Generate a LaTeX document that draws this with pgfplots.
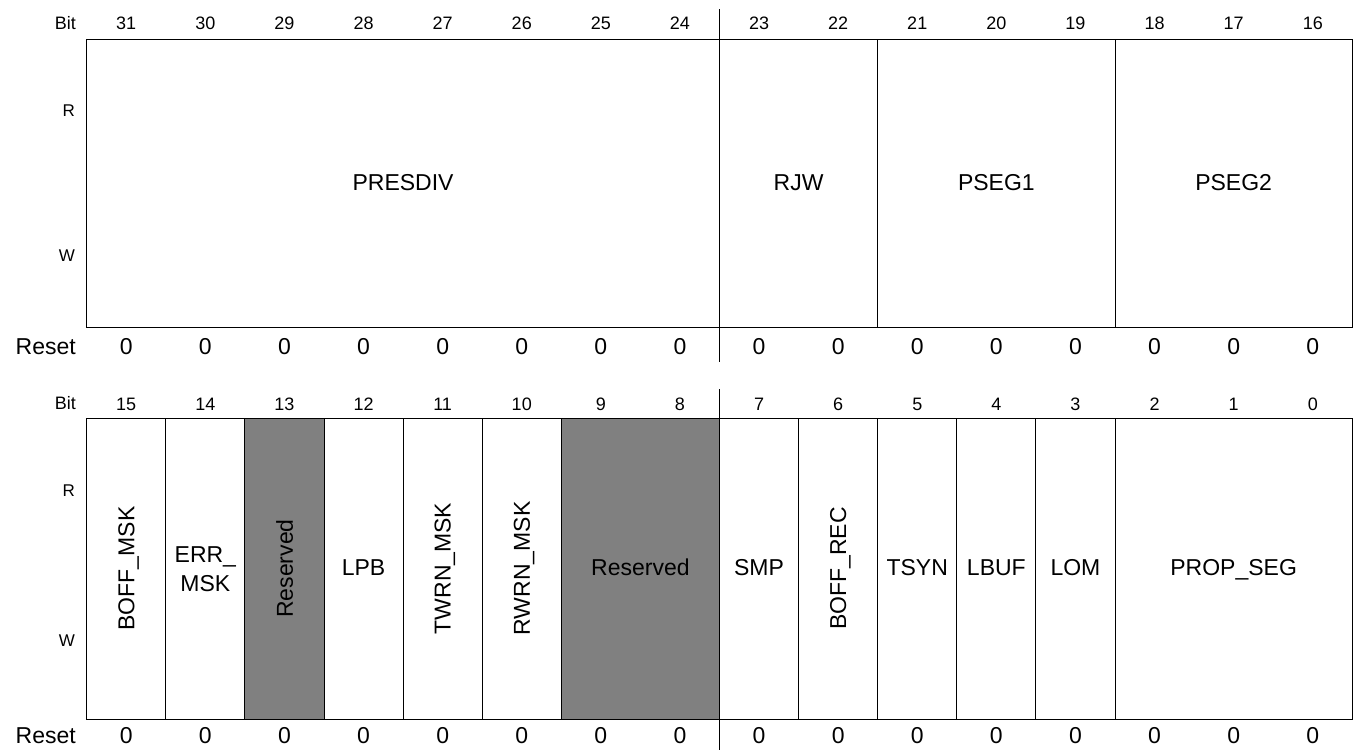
\documentclass[border=0pt]{standalone}
\usepackage{pgfplots}
\usepackage{pgfplotstable}
\pgfplotsset{compat=1.18}
\usepackage{fontspec}
\setmainfont{Liberation Sans}
\definecolor{resgray}{RGB}{128,128,128}
\newcommand{\nod}[1]{\raisebox{0pt}[\height][0pt]{#1}}
\newcommand{\fsz}[1]{\fontsize{#1}{#1}\selectfont}

% bit columns: x = column index (left edge), labels for both registers
\pgfplotstableread{
x    top  bot  rst
0.5  31   15   0
1.5  30   14   0
2.5  29   13   0
3.5  28   12   0
4.5  27   11   0
5.5  26   10   0
6.5  25   9    0
7.5  24   8    0
8.5  23   7    0
9.5  22   6    0
10.5 21   5    0
11.5 20   4    0
12.5 19   3    0
13.5 18   2    0
14.5 17   1    0
15.5 16   0    0
}\bits

\begin{document}
\begin{tikzpicture}
\begin{axis}[width=1353pt,height=750pt,scale only axis,
  xmin=-1.0961, xmax=16.0089, ymin=0, ymax=750, y dir=reverse,
  axis lines=none, ticks=none, clip=false]
\path (rel axis cs:0,0) rectangle (rel axis cs:1,1);

% ---------- upper register (bits 31..16) ----------
\addplot[draw=black, line width=1pt, fill=white] coordinates {(0,39) (8,39) (8,327) (0,327)} -- cycle;
\addplot[draw=black, line width=1pt, fill=white] coordinates {(8,39) (10,39) (10,327) (8,327)} -- cycle;
\addplot[draw=black, line width=1pt, fill=white] coordinates {(10,39) (13,39) (13,327) (10,327)} -- cycle;
\addplot[draw=black, line width=1pt, fill=white] coordinates {(13,39) (16,39) (16,327) (13,327)} -- cycle;
% byte divider
\addplot[black, line width=1pt] coordinates {(8,9.3) (8,39)};
\addplot[black, line width=1pt] coordinates {(8,327) (8,362)};

% ---------- lower register (bits 15..0) ----------
\addplot[draw=black, line width=1pt, fill=white]   coordinates {(0,418) (1,418) (1,719) (0,719)} -- cycle;
\addplot[draw=black, line width=1pt, fill=white]   coordinates {(1,418) (2,418) (2,719) (1,719)} -- cycle;
\addplot[draw=black, line width=1pt, fill=resgray] coordinates {(2,418) (3,418) (3,719) (2,719)} -- cycle;
\addplot[draw=black, line width=1pt, fill=white]   coordinates {(3,418) (4,418) (4,719) (3,719)} -- cycle;
\addplot[draw=black, line width=1pt, fill=white]   coordinates {(4,418) (5,418) (5,719) (4,719)} -- cycle;
\addplot[draw=black, line width=1pt, fill=white]   coordinates {(5,418) (6,418) (6,719) (5,719)} -- cycle;
\addplot[draw=black, line width=1pt, fill=resgray] coordinates {(6,418) (8,418) (8,719) (6,719)} -- cycle;
\addplot[draw=black, line width=1pt, fill=white]   coordinates {(8,418) (9,418) (9,719) (8,719)} -- cycle;
\addplot[draw=black, line width=1pt, fill=white]   coordinates {(9,418) (10,418) (10,719) (9,719)} -- cycle;
\addplot[draw=black, line width=1pt, fill=white]   coordinates {(10,418) (11,418) (11,719) (10,719)} -- cycle;
\addplot[draw=black, line width=1pt, fill=white]   coordinates {(11,418) (12,418) (12,719) (11,719)} -- cycle;
\addplot[draw=black, line width=1pt, fill=white]   coordinates {(12,418) (13,418) (13,719) (12,719)} -- cycle;
\addplot[draw=black, line width=1pt, fill=white]   coordinates {(13,418) (16,418) (16,719) (13,719)} -- cycle;
\addplot[black, line width=1pt] coordinates {(8,389) (8,418)};
\addplot[black, line width=1pt] coordinates {(8,719) (8,750)};

% ---------- bit numbers and reset values ----------
\addplot[draw=none, mark=none, nodes near coords, point meta=explicit symbolic,
  every node near coord/.style={anchor=base, inner sep=0pt, font=\fsz{18}}]
  table[x=x, y expr=29.3, meta=top] {\bits};
\addplot[draw=none, mark=none, nodes near coords, point meta=explicit symbolic,
  every node near coord/.style={anchor=base, inner sep=0pt, font=\fsz{18}}]
  table[x=x, y expr=410, meta=bot] {\bits};
\addplot[draw=none, mark=none, nodes near coords, point meta=explicit symbolic,
  every node near coord/.style={anchor=base, inner sep=0pt, font=\fsz{23}}]
  table[x=x, y expr=354.5, meta=rst] {\bits};
\addplot[draw=none, mark=none, nodes near coords, point meta=explicit symbolic,
  every node near coord/.style={anchor=base, inner sep=0pt, font=\fsz{23}}]
  table[x=x, y expr=743.3, meta=rst] {\bits};

% ---------- row labels ----------
\node[anchor=base east, inner sep=0pt, font=\fsz{18}] at (axis cs:-0.135,29.3) {Bit};
\node[anchor=base east, inner sep=0pt, font=\fsz{17}] at (axis cs:-0.148,116.7) {R};
\node[anchor=base east, inner sep=0pt, font=\fsz{17}] at (axis cs:-0.148,261) {W};
\node[anchor=base east, inner sep=0pt, font=\fsz{23}] at (axis cs:-0.135,354) {Reset};
\node[anchor=base east, inner sep=0pt, font=\fsz{18}] at (axis cs:-0.135,409.3) {Bit};
\node[anchor=base east, inner sep=0pt, font=\fsz{17}] at (axis cs:-0.148,496.7) {R};
\node[anchor=base east, inner sep=0pt, font=\fsz{17}] at (axis cs:-0.148,646.7) {W};
\node[anchor=base east, inner sep=0pt, font=\fsz{23}] at (axis cs:-0.135,743.3) {Reset};

% ---------- field names, upper register ----------
\node[anchor=base, inner sep=0pt, font=\fsz{23}] at (axis cs:4,190.7) {PRESDIV};
\node[anchor=base, inner sep=0pt, font=\fsz{23}] at (axis cs:9,190.7) {RJW};
\node[anchor=base, inner sep=0pt, font=\fsz{23}] at (axis cs:11.5,190.7) {PSEG1};
\node[anchor=base, inner sep=0pt, font=\fsz{23}] at (axis cs:14.5,190.7) {PSEG2};

% ---------- field names, lower register ----------
\node[rotate=90, anchor=center, inner sep=0pt, font=\fsz{23}] at (axis cs:0.5,568.5) {\nod{BOFF\_MSK}};
\node[align=center, anchor=center, inner sep=0pt, font=\fontsize{23}{28.5}\selectfont] at (axis cs:1.5,569.2) {ERR\_\\MSK};
\node[rotate=90, anchor=center, inner sep=0pt, font=\fsz{23}] at (axis cs:2.5,568.5) {\nod{Reserved}};
\node[anchor=base, inner sep=0pt, font=\fsz{23}] at (axis cs:3.5,575) {LPB};
\node[rotate=90, anchor=center, inner sep=0pt, font=\fsz{23}] at (axis cs:4.5,568.5) {\nod{TWRN\_MSK}};
\node[rotate=90, anchor=center, inner sep=0pt, font=\fsz{23}] at (axis cs:5.5,568.5) {\nod{RWRN\_MSK}};
\node[anchor=base, inner sep=0pt, font=\fsz{23}] at (axis cs:7,575) {Reserved};
\node[anchor=base, inner sep=0pt, font=\fsz{23}] at (axis cs:8.5,575) {SMP};
\node[rotate=90, anchor=center, inner sep=0pt, font=\fsz{23}] at (axis cs:9.5,568.5) {\nod{BOFF\_REC}};
\node[anchor=base, inner sep=0pt, font=\fsz{23}] at (axis cs:10.5,575) {TSYN};
\node[anchor=base, inner sep=0pt, font=\fsz{23}] at (axis cs:11.5,575) {LBUF};
\node[anchor=base, inner sep=0pt, font=\fsz{23}] at (axis cs:12.5,575) {LOM};
\node[anchor=base, inner sep=0pt, font=\fsz{23}] at (axis cs:14.5,575) {PROP\_SEG};
\end{axis}
\end{tikzpicture}
\end{document}
